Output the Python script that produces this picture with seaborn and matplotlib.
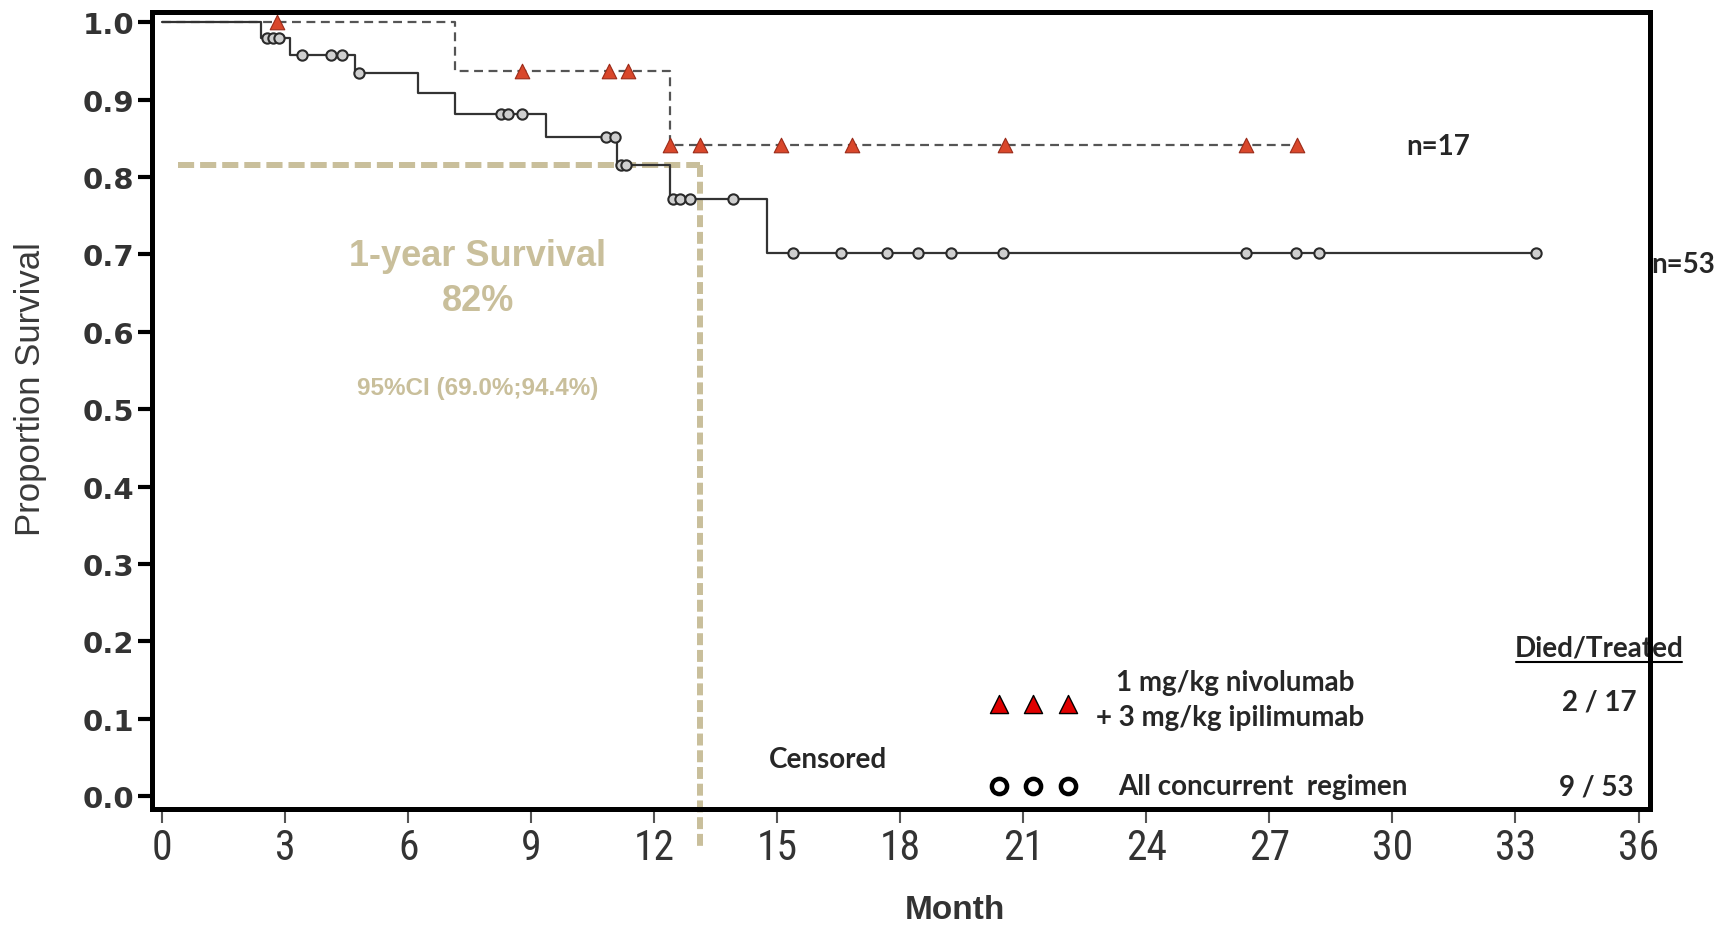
import numpy as np
import pandas as pd
import matplotlib
matplotlib.use('Agg')
import matplotlib.pyplot as plt
import seaborn as sns

# Kaplan-Meier step data
conc_time = [0, 2.42, 3.12, 4.69, 6.25, 7.14, 9.35, 11.09, 12.38, 14.74, 33.5]
conc_surv = [1.0, 0.980, 0.958, 0.935, 0.908, 0.882, 0.852, 0.815, 0.772, 0.702, 0.702]
conc_cens = [2.56, 2.70, 2.86, 3.42, 4.12, 4.38, 4.81, 8.26, 8.43, 8.78, 10.82, 11.04,
             11.20, 11.32, 12.45, 12.63, 12.87, 13.91, 15.39, 16.55, 17.68, 18.42,
             19.23, 20.51, 26.42, 27.66, 28.20, 33.50]

nivo_time = [0, 7.14, 12.38, 27.67]
nivo_surv = [1.0, 0.937, 0.841, 0.841]
nivo_cens = [2.8, 8.78, 10.9, 11.35, 12.38, 13.12, 15.1, 16.82, 20.54, 26.42, 27.67]

xticks = list(range(0, 37, 3))
yticks = [round(0.1 * i, 1) for i in range(11)]

one_year = 0.815
one_year_month = 13.12

def at(times, surv, t):
    idx = np.searchsorted(times, t, side='right') - 1
    return np.asarray(surv)[idx]

conc_df = pd.DataFrame({'month': conc_time, 'surv': conc_surv})
nivo_df = pd.DataFrame({'month': nivo_time, 'surv': nivo_surv})
conc_c = pd.DataFrame({'month': conc_cens, 'surv': at(conc_time, conc_surv, conc_cens)})
nivo_c = pd.DataFrame({'month': nivo_cens, 'surv': at(nivo_time, nivo_surv, nivo_cens)})

sns.set_style('ticks')
plt.rcParams['font.family'] = ['Liberation Sans', 'DejaVu Sans']

fig = plt.figure(figsize=(17.29, 9.28), dpi=100)
ax = fig.add_axes([0.0879, 0.1272, 0.8664, 0.8588])

tan = '#c9bf9b'

# 1-year survival guide lines
ax.plot([0.39, one_year_month], [one_year, one_year], color=tan, lw=4.3,
        dashes=(2.7, 1.0), zorder=1)
ax.plot([one_year_month, one_year_month], [one_year, -0.067], color=tan, lw=4.3,
        dashes=(2.0, 0.8), zorder=1, clip_on=False)

sns.lineplot(data=nivo_df, x='month', y='surv', drawstyle='steps-post', color='#555555',
             lw=1.6, linestyle=(0, (4, 2.5)), errorbar=None, ax=ax, zorder=2)
sns.lineplot(data=conc_df, x='month', y='surv', drawstyle='steps-post', color='#333333',
             lw=1.6, errorbar=None, ax=ax, zorder=3)
sns.scatterplot(data=conc_c, x='month', y='surv', marker='o', s=55, color='#cfcfcf',
                edgecolor='#2a2a2a', linewidth=1.5, ax=ax, zorder=4)
sns.scatterplot(data=nivo_c, x='month', y='surv', marker='^', s=110, color='#d9472b',
                edgecolor='#9a2a18', linewidth=0.8, ax=ax, zorder=5)

ax.set_xlim(-0.249, 36.28)
ax.set_ylim(-0.0165, 1.0132)
ax.set_xticks(xticks)
ax.set_yticks(yticks)
ax.set_yticklabels([f'{v:.1f}' for v in yticks], fontsize=21, fontweight='bold', color='#333333',
                   family=['DejaVu Sans'])
ax.set_xticklabels([str(v) for v in xticks], fontsize=30, color='#333333',
                   family=['Liberation Sans Narrow', 'DejaVu Sans Condensed',
                           'Roboto Condensed', 'Liberation Sans'])
ax.tick_params(axis='y', direction='out', length=10, width=3, pad=3, color='black')
ax.tick_params(axis='x', direction='out', length=10, width=1.5, pad=3, color='#555555')
for sp in ax.spines.values():
    sp.set_linewidth(3.6)
    sp.set_color('black')
    sp.set_zorder(10)

ax.set_xlabel('Month', fontsize=24, fontweight='bold', color='#333333')
ax.xaxis.set_label_coords(0.536, -0.1267)
ax.xaxis.label.set_va('center')
ax.set_ylabel('Proportion Survival', fontsize=25, color='#3a3a3a')
ax.yaxis.set_label_coords(-0.081, 0.528)
ax.yaxis.label.set_va('center')

# annotations
ax.text(7.70, 0.698, '1-year Survival', color=tan, fontsize=26, fontweight='bold',
        ha='center', va='center')
ax.text(7.70, 0.640, '82%', color=tan, fontsize=26, fontweight='bold',
        ha='center', va='center')
ax.text(7.70, 0.528, '95%CI (69.0%;94.4%)', color=tan, fontsize=17.5, fontweight='bold',
        ha='center', va='center')

cal = ['Lato', 'DejaVu Sans']
ax.text(30.33, 0.840, 'n=17', fontsize=20, fontweight='bold', family=cal, va='center')
ax.text(36.30, 0.688, 'n=53', fontsize=20, fontweight='bold', family=cal, va='center')
ax.text(35.04, 0.192, 'Died/Treated', fontsize=20, fontweight='bold', family=cal,
        ha='center', va='center', zorder=1)
ax.plot([33.02, 37.05], [0.174, 0.174], color='black', lw=1.5, clip_on=False, zorder=1)
ax.text(35.04, 0.1225, '2 / 17', fontsize=20, fontweight='bold', family=cal,
        ha='center', va='center')
ax.text(34.98, 0.0128, '9 / 53', fontsize=20, fontweight='bold', family=cal,
        ha='center', va='center')
ax.text(26.16, 0.148, '1 mg/kg nivolumab', fontsize=20, fontweight='bold', family=cal,
        ha='center', va='center')
ax.text(26.03, 0.1026, '+ 3 mg/kg ipilimumab', fontsize=20, fontweight='bold', family=cal,
        ha='center', va='center')
ax.text(16.24, 0.048, 'Censored', fontsize=20, fontweight='bold', family=cal,
        ha='center', va='center')
ax.text(23.31, 0.0128, 'All concurrent  regimen', fontsize=20, fontweight='bold', family=cal,
        ha='left', va='center')

# legend symbols
key_x = [20.41, 21.24, 22.10]
ax.scatter(key_x, [0.1197] * 3, marker='^', s=170, color='#e00000', edgecolor='black',
           linewidth=1.0, zorder=6)
ax.scatter(key_x, [0.0128] * 3, marker='o', s=120, color='white', edgecolor='black',
           linewidth=3.2, zorder=6)

fig.savefig('out.png', dpi=100)
